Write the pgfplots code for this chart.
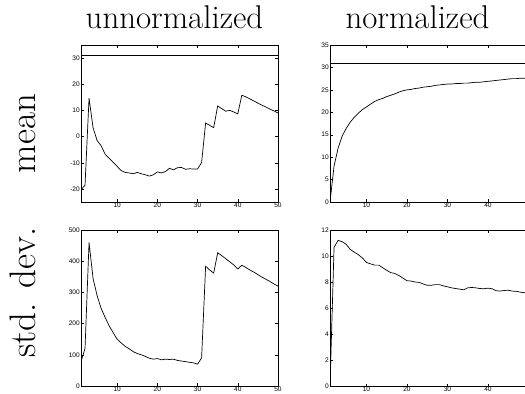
\documentclass[border=0pt]{standalone}
\usepackage{fontspec}
\usepackage{pgfplots}
\pgfplotsset{compat=1.18}
\newfontfamily\tickfont{Liberation Sans}
\pgfplotsset{
  panel/.style={
    scale only axis,
    width=197bp, height=157bp,
    anchor=north west,
    xmin=1, xmax=50,
    xtick={10,20,30,40,50},
    tick align=inside,
    major tick length=2.5bp,
    every tick/.style={black, line width=0.4pt},
    axis line style={line width=0.8pt},
    tick label style={font=\tickfont\fontsize{6.6}{7}\selectfont, inner sep=1bp},
    /pgf/number format/assume math mode=true,
    xticklabel style={yshift=0.5bp},
    clip=true,
  },
  curve/.style={black, line width=0.7pt, mark=none},
}
\begin{document}
\begin{tikzpicture}
\useasboundingbox (0,0) rectangle (525bp,-394bp);
\clip (0,0) rectangle (525bp,-394bp);

% titles
\node[anchor=base, inner sep=0pt] at (174.5bp,-28.7bp) {\fontsize{33}{38}\selectfont unnormalized};
\node[anchor=base, inner sep=0pt] at (417.5bp,-28.7bp) {\fontsize{33}{38}\selectfont normalized};
\node[anchor=base, inner sep=0pt, rotate=90] at (35bp,-133.5bp) {\fontsize{37}{44}\selectfont mean};
\node[anchor=base, inner sep=0pt, rotate=90] at (35bp,-292.5bp) {\fontsize{37}{44}\selectfont std. dev.};

% top-left: unnormalized mean
\begin{axis}[panel, at={(81bp,-45bp)}, ymin=-25, ymax=35, ytick={-20,-10,0,10,20,30}]
\addplot[curve] coordinates {(1,31.1) (50,31.1)};
\addplot[curve] coordinates {
(1,-20.3) (2,-18.6) (3,14.7) (4,3.4) (5,-1.5) (6,-3.5) (7,-6.7) (8,-8.3) (9,-9.8) (10,-11.4)
(11,-13.0) (12,-13.7) (13,-13.9) (14,-14.2) (15,-13.7) (16,-14.2) (17,-14.6) (18,-15.1) (19,-14.6) (20,-13.5)
(21,-13.9) (22,-13.4) (23,-12.1) (24,-12.7) (25,-11.9) (26,-11.8) (27,-12.5) (28,-12.3) (29,-12.4) (30,-12.4)
(31,-9.9) (32,5.2) (33,4.3) (34,3.4) (35,11.7) (36,10.7) (37,9.7) (38,10.0) (39,9.4) (40,8.7)
(41,15.8) (42,15.2) (43,14.4) (44,13.6) (45,12.8) (46,12.0) (47,11.3) (48,10.5) (49,9.8) (50,9.0)
};
\end{axis}

% top-right: normalized mean
\begin{axis}[panel, at={(330bp,-45bp)}, width=198.5bp, ymin=0, ymax=35, ytick={0,5,10,15,20,25,30,35}]
\addplot[curve] coordinates {(1,31.0) (50,31.0)};
\addplot[curve] coordinates {
(1,0) (2,8.0) (3,12.0) (4,14.7) (5,16.4) (6,17.8) (7,18.9) (8,19.8) (9,20.6) (10,21.2)
(11,21.8) (12,22.4) (13,22.8) (14,23.1) (15,23.5) (16,23.8) (17,24.1) (18,24.5) (19,24.8) (20,25.0)
(21,25.1) (22,25.3) (23,25.4) (24,25.6) (25,25.7) (26,25.8) (27,26.0) (28,26.1) (29,26.2) (30,26.3)
(31,26.3) (32,26.4) (33,26.4) (34,26.5) (35,26.5) (36,26.6) (37,26.7) (38,26.7) (39,26.8) (40,26.9)
(41,27.0) (42,27.1) (43,27.2) (44,27.3) (45,27.4) (46,27.5) (47,27.5) (48,27.6) (49,27.6) (50,27.7)
};
\end{axis}

% bottom-left: unnormalized std
\begin{axis}[panel, at={(81bp,-230bp)}, height=156bp, ymin=0, ymax=500, ytick={0,100,200,300,400,500}]
\addplot[curve] coordinates {
(1,78) (2,120) (3,460) (4,345) (5,290) (6,249) (7,220) (8,193) (9,171) (10,150)
(11,138) (12,127) (13,119) (14,110) (15,104) (16,100) (17,95) (18,89) (19,86) (20,88)
(21,84) (22,86) (23,85) (24,86) (25,82) (26,80) (27,78) (28,76) (29,74) (30,70)
(31,90) (32,384) (33,372) (34,362) (35,427) (36,418) (37,408) (38,398) (39,388) (40,375)
(41,387) (42,380) (43,372) (44,365) (45,357) (46,349) (47,342) (48,335) (49,327) (50,320)
};
\end{axis}

% bottom-right: normalized std
\begin{axis}[panel, at={(330bp,-230bp)}, width=198.5bp, height=156bp, ymin=0, ymax=12, ytick={0,2,4,6,8,10,12}]
\addplot[curve] coordinates {
(1,0) (2,10.67) (3,11.2) (4,11.1) (5,10.9) (6,10.5) (7,10.3) (8,10.1) (9,9.85) (10,9.5)
(11,9.4) (12,9.3) (13,9.3) (14,9.1) (15,8.9) (16,8.72) (17,8.66) (18,8.5) (19,8.3) (20,8.1)
(21,8.07) (22,8.0) (23,7.97) (24,7.85) (25,7.75) (26,7.75) (27,7.8) (28,7.8) (29,7.7) (30,7.63)
(31,7.55) (32,7.5) (33,7.45) (34,7.4) (35,7.55) (36,7.58) (37,7.55) (38,7.5) (39,7.48) (40,7.53)
(41,7.48) (42,7.33) (43,7.3) (44,7.35) (45,7.37) (46,7.3) (47,7.28) (48,7.22) (49,7.17) (50,7.12)
};
\end{axis}
\end{tikzpicture}
\end{document}
